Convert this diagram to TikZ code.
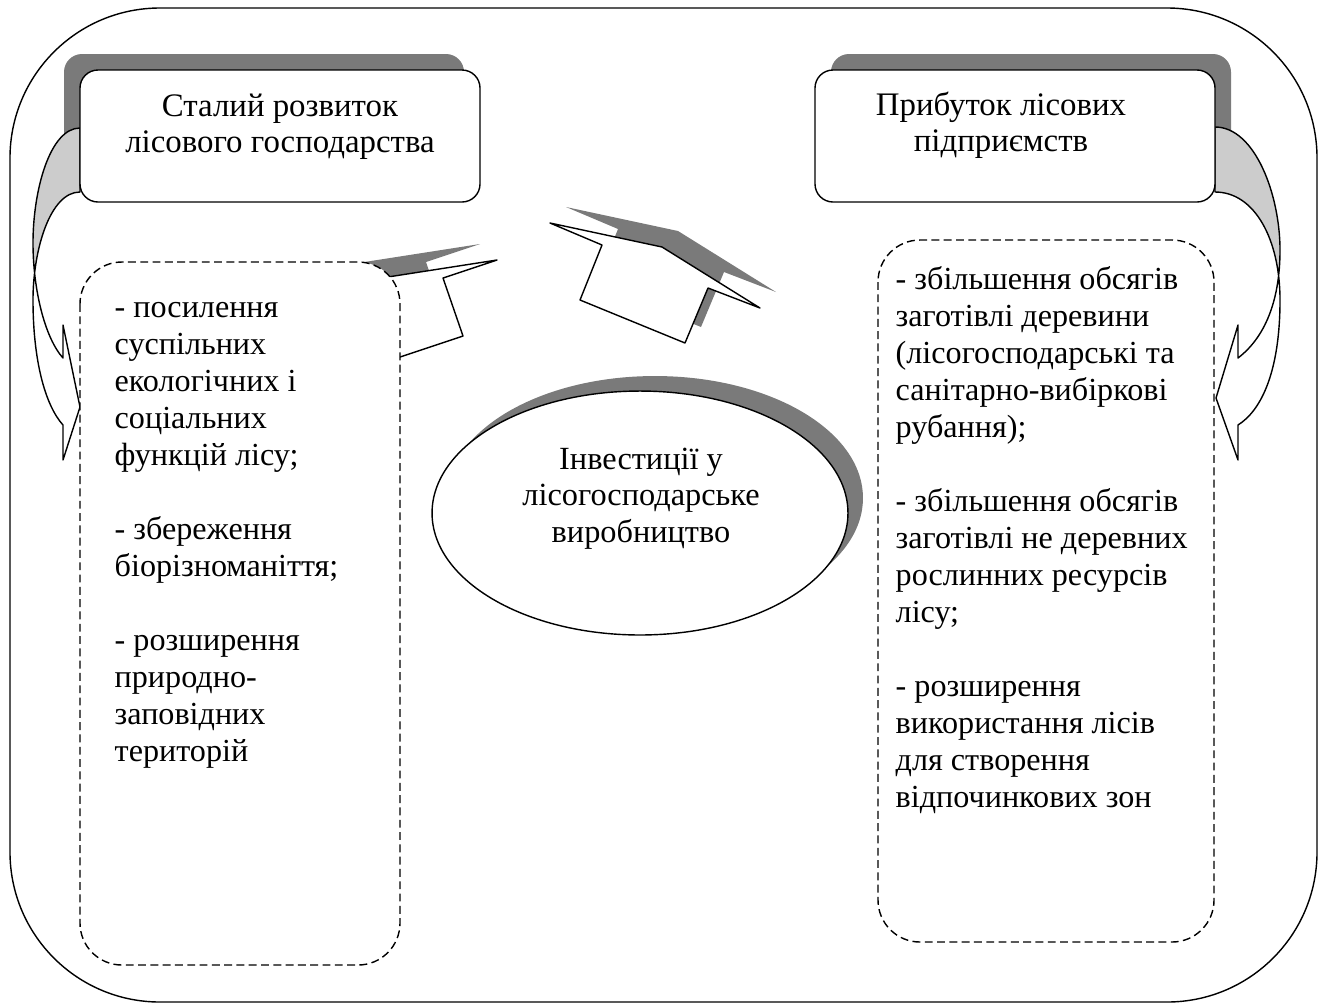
\documentclass[tikz,border=0pt]{standalone}
\usepackage{fontspec}
\setmainfont{Liberation Serif}
\newcommand{\lcurvepath}{(80,128) .. controls (50,128) and (33,190) .. (33,243) .. controls (33,290) and (45,338) .. (63,358) -- (63,325) -- (80,407) -- (63,460) -- (63,425) .. controls (45,405) and (33,360) .. (33,300) .. controls (33,250) and (50,192) .. (80,192) -- cycle}
\newcommand{\rcurvepath}{(1215,127) .. controls (1255,127) and (1280,195) .. (1280,250) .. controls (1280,295) and (1268,335) .. (1238,358) -- (1238,325) -- (1216,398) -- (1238,460) -- (1238,425) .. controls (1262,410) and (1280,370) .. (1280,300) .. controls (1280,240) and (1255,192) .. (1215,192) -- cycle}
\begin{document}
\begin{tikzpicture}[x=0.02cm,y=-0.02cm,
  line width=0.8pt, line join=round,
  shadowfill/.style={fill=black!52, draw=none},
  titlebox/.style={draw, fill=white, rounded corners=0.36cm},
  dashbox/.style={draw, fill=white, dash pattern=on 4.5pt off 2.5pt, rounded corners=0.84cm},
  listtxt/.style={inner sep=0pt, align=left, anchor=north west, font=\fontsize{18.3}{21.05}\selectfont},
  titletxt/.style={inner sep=0pt, align=center, anchor=north, font=\fontsize{18.7}{20.6}\selectfont},
  ovaltxt/.style={inner sep=0pt, align=center, anchor=north, font=\fontsize{18.4}{20.8}\selectfont},
  backface/.style={fill=black!20},
]
\useasboundingbox (0,0) rectangle (1327,1005);
% outer frame
\draw[rounded corners=3cm] (10,8) rectangle (1317,1002);

% shadows of title boxes
\fill[shadowfill, rounded corners=0.36cm] (64,54) rectangle (464,186);
\fill[shadowfill, rounded corners=0.36cm] (831,54) rectangle (1231,186);

% left curved arrow
\fill[white] \lcurvepath;
\begin{scope}
  \clip (0,0) rectangle (200,272);
  \fill[backface] \lcurvepath;
\end{scope}
\draw \lcurvepath;

% right curved arrow
\fill[white] \rcurvepath;
\begin{scope}
  \clip (1100,0) rectangle (1327,278);
  \fill[backface] \rcurvepath;
\end{scope}
\draw \rcurvepath;

% title boxes
\draw[titlebox] (80,70) rectangle (480,202);
\draw[titlebox] (815,70) rectangle (1215,202);

% middle arrows
\fill[shadowfill] (323,361) -- (446,320) -- (426,262) -- (480,244) -- (313,270) -- cycle;
\draw[fill=white] (340,377) -- (463,336) -- (443,278) -- (497,260) -- (330,286) -- cycle;

\fill[shadowfill] (566,207) -- (618,229) -- (596,284) -- (701,327) -- (724,272) -- (776,292) -- (678,231) -- cycle;
\draw[fill=white] (550,223) -- (602,245) -- (580,300) -- (685,343) -- (708,288) -- (760,308) -- (662,247) -- cycle;

% ellipse
\fill[shadowfill] (655,498) ellipse [x radius=4.16cm, y radius=2.44cm];
\draw[fill=white] (640,513) ellipse [x radius=4.16cm, y radius=2.44cm];

% dashed boxes
\draw[dashbox] (80,262) rectangle (400,965);
\draw[dashbox] (878,240) rectangle (1214,942);

% texts
\node[titletxt] (lefttitle) at (280,90.7) {\strut Сталий розвиток\\лісового господарства};
\node[titletxt] (righttitle) at (1001,89.7) {\strut Прибуток лісових\\підприємств};
\node[ovaltxt] (centre) at (641,443) {\strut Інвестиції у\\лісогосподарське\\виробництво};
\node[listtxt] (leftlist) at (114,291.1) {\strut - посилення\\суспільних\\екологічних і\\соціальних\\функцій лісу;\\[21.05pt]- збереження\\біорізноманіття;\\[21.05pt]- розширення\\природно-\\заповідних\\територій};
\node[listtxt] (rightlist) at (895,262.8) {\strut - збільшення обсягів\\заготівлі деревини\\(лісогосподарські та\\санітарно-вибіркові\\рубання);\\[21.05pt]- збільшення обсягів\\заготівлі не деревних\\рослинних ресурсів\\лісу;\\[21.05pt]- розширення\\використання лісів\\для створення\\відпочинкових зон};
\end{tikzpicture}
\end{document}
